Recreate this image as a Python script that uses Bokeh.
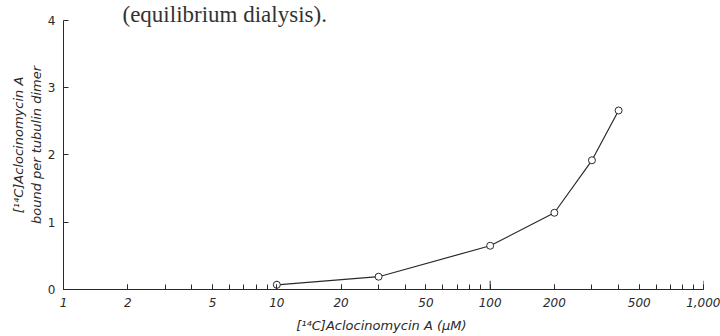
from bokeh.plotting import figure
from bokeh.models import FixedTicker, NumeralTickFormatter, Label, ColumnDataSource, Range1d
from bokeh.embed import file_html
from bokeh.resources import INLINE

# data
conc_uM = [10, 30, 100, 200, 300, 400]
bound_per_dimer = [0.07, 0.19, 0.65, 1.14, 1.92, 2.66]
x_major = [1, 2, 5, 10, 20, 50, 100, 200, 500, 1000]
x_minor = [3, 4, 6, 7, 8, 9, 30, 40, 60, 70, 80, 90, 300, 400, 600, 700, 800, 900]
x_decades = [10, 100, 1000]
y_ticks = [0, 1, 2, 3, 4]

INK = "#2a2a2a"
FONT = "DejaVu Sans"

# frame spans full height above the x axis; y axis line bounded to 0..4
p = figure(width=720, height=336, x_axis_type="log",
           x_range=Range1d(1, 1000), y_range=Range1d(0, 4.294),
           output_backend="svg", toolbar_location=None,
           min_border_left=63, min_border_right=17,
           min_border_top=0, min_border_bottom=47)
p.outline_line_color = None
p.xgrid.visible = False
p.ygrid.visible = False
p.background_fill_color = "white"
p.border_fill_color = "white"

# axes
xa = p.xaxis[0]
xa.ticker = FixedTicker(ticks=x_major, minor_ticks=x_major + x_minor)
xa.formatter = NumeralTickFormatter(format="0,0")
xa.major_tick_in = 5
xa.major_tick_out = 0
xa.minor_tick_in = 5
xa.minor_tick_out = 0
xa.axis_line_color = INK
xa.major_tick_line_color = INK
xa.minor_tick_line_color = INK
xa.major_label_text_font = FONT
xa.major_label_text_font_style = "italic"
xa.major_label_text_font_size = "12px"
xa.major_label_text_color = INK
xa.major_label_standoff = 8
xa.axis_label = "[\u00b9\u2074C]Aclocinomycin A  (\u03bcM)"
xa.axis_label_text_font = FONT
xa.axis_label_text_font_style = "italic"
xa.axis_label_text_font_size = "13px"
xa.axis_label_text_color = INK
xa.axis_label_standoff = 8

ya = p.yaxis[0]
ya.bounds = (0, 4)
ya.ticker = FixedTicker(ticks=y_ticks)
ya.major_tick_in = 5
ya.major_tick_out = 0
ya.minor_tick_line_color = None
ya.axis_line_color = INK
ya.major_tick_line_color = INK
ya.major_label_text_font = FONT
ya.major_label_text_font_size = "12px"
ya.major_label_text_color = INK
ya.major_label_standoff = 8
ya.axis_label = "[\u00b9\u2074C]Aclocinomycin A\nbound per tubulin dimer"
ya.axis_label_text_font = FONT
ya.axis_label_text_font_style = "italic"
ya.axis_label_text_font_size = "13px"
ya.axis_label_text_color = INK
ya.axis_label_standoff = 1

# taller decade ticks
p.segment(x0=x_decades, y0=[0] * len(x_decades), x1=x_decades, y1=[0.13] * len(x_decades),
          line_color=INK, line_width=1)

src = ColumnDataSource(dict(x=conc_uM, y=bound_per_dimer))
p.line("x", "y", source=src, line_color=INK, line_width=1.2)
p.scatter("x", "y", source=src, size=7, marker="circle",
          fill_color="white", line_color=INK, line_width=1)

title = Label(x=1.89, y=4.09, text="(equilibrium dialysis).",
              text_font="Liberation Serif", text_font_size="23px",
              text_color="#333333", text_baseline="middle")
p.add_layout(title)

open("out.html", "w").write(file_html(p, INLINE))
